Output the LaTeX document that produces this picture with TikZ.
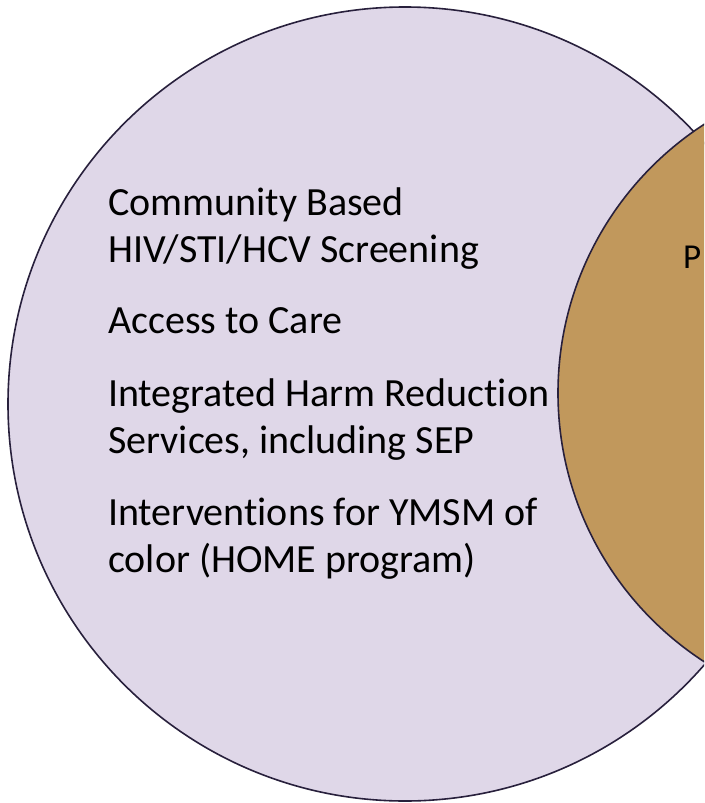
\documentclass[tikz,border=0pt]{standalone}
\usepackage{fontspec}
\setmainfont[Ligatures={NoCommon}]{Carlito}
\definecolor{lav}{RGB}{223,215,232}
\definecolor{tan}{RGB}{193,152,92}
\definecolor{edge}{RGB}{40,32,60}
\begin{document}
\begin{tikzpicture}[x=1pt,y=-1pt,
  circ/.style={draw=edge,line width=1.6pt},
  item/.style={anchor=base west,inner sep=0pt,align=left,font=\fontsize{40}{47}\selectfont},
  lbl/.style={anchor=base west,inner sep=0pt,font=\fontsize{35}{40}\selectfont}]
\useasboundingbox (0,0) rectangle (704,803);
\clip (0,0) rectangle (704,803);
\fill[white] (0,0) rectangle (704,803);
\draw[circ,fill=lav] (405,404) circle[radius=397];
\draw[circ,fill=tan] (878,393) circle[radius=320];
\node[item] (a) at (108,262) {Community Based\\HIV/STI/HCV Screening};
\node[item] (b) at (108,333) {Access to Care};
\node[item] (c) at (108,453) {Integrated Harm Reduction\\Services, including SEP};
\node[item] (d) at (108,572) {Interventions for YMSM of\\color (HOME program)};
\node[lbl] (p) at (683,268) {P};
\end{tikzpicture}
\end{document}
